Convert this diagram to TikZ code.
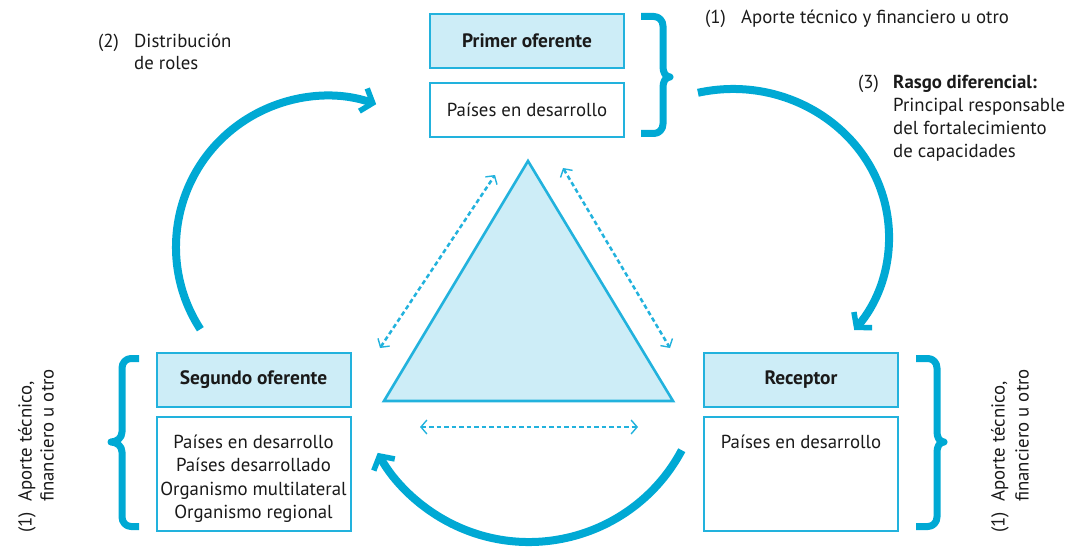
\documentclass[tikz,border=0pt]{standalone}
\usepackage{fontspec}
\setmainfont{PT Sans}
\usetikzlibrary{arrows.meta}
\definecolor{arcc}{HTML}{00A9D4}
\definecolor{boxc}{HTML}{22B2DD}
\definecolor{lightc}{HTML}{CDEDF7}
\definecolor{txtc}{HTML}{1A1A1A}
\begin{document}
\begin{tikzpicture}[x=1pt,y=-1pt,
  every node/.style={text=txtc, font=\fontsize{18.8}{23}\selectfont},
  hdr/.style={draw=boxc, fill=lightc, line width=2pt, minimum width=194pt, minimum height=54pt, inner sep=0pt, font=\fontsize{19.4}{23}\selectfont\bfseries},
  bodyb/.style={draw=boxc, fill=white, line width=2pt, minimum width=194pt, inner sep=0pt},
  txt/.style={inner sep=0pt},
  bigarrow/.style={draw=arcc, line width=8pt, -{Straight Barb[length=10pt,width=24pt,line width=5.5pt]}},
  brace/.style={draw=arcc, line width=7pt, line join=round},
  dasharrow/.style={draw=boxc, line width=2.5pt, dash pattern=on 4.5pt off 3pt,
     {Straight Barb[length=6pt,width=14pt,line width=1.4pt]}-{Straight Barb[length=6pt,width=14pt,line width=1.4pt]}},
]
\useasboundingbox (0,0) rectangle (1073,548);

% Boxes
\node[hdr] (p1h) at (527,41) {Primer oferente};
\node[bodyb, minimum height=54pt] (p1b) at (527,110) {Países en desarrollo};

\node[hdr] (s2h) at (253.5,380) {Segundo oferente};
\node[bodyb, minimum height=114pt] (s2b) at (253.5,474) {};
\node[txt, anchor=base] (s2t1) at (253.5,448.6) {Países en desarrollo};
\node[txt, anchor=base] (s2t2) at (253.5,471.8) {Países desarrollado};
\node[txt, anchor=base] (s2t3) at (253.5,495) {Organismo multilateral};
\node[txt, anchor=base] (s2t4) at (253.5,518.2) {Organismo regional};

\node[hdr] (rh) at (801,380) {Receptor};
\node[bodyb, minimum height=114pt] (rb) at (801,474) {};
\node[txt, anchor=base] (rt) at (801,448.6) {Países en desarrollo};

% Triangle
\coordinate (ta) at (528,161);
\coordinate (tl) at (384,401);
\coordinate (tr) at (673,401);
\draw[draw=boxc, fill=lightc, line width=2.6pt, line join=miter] (ta) -- (tl) -- (tr) -- cycle;

% Dashed arrows
\coordinate (d1a) at (380,348); \coordinate (d1b) at (495,175);
\coordinate (d2a) at (563,168); \coordinate (d2b) at (670,348);
\coordinate (d3a) at (420,427); \coordinate (d3b) at (638,427);
\draw[dasharrow] (d1a) -- (d1b);
\draw[dasharrow] (d2a) -- (d2b);
\draw[dasharrow] (d3a) -- (d3b);

% Big arcs
\coordinate (c1) at (327,247);
\coordinate (c2) at (733,237);
\coordinate (c3) at (529,369);
\draw[bigarrow] (c1) ++(147:151) arc[start angle=147, end angle=289, radius=151];
\draw[bigarrow] (c2) ++(257:156 and 148) arc[start angle=257, end angle=399, x radius=156, y radius=148];
\draw[bigarrow] (c3) ++(28:173) arc[start angle=28, end angle=151, radius=173];

% Braces
\draw[brace] (641,16.5) -- (654,16.5) to[out=0,in=90] (663,26) -- (663,67) to[out=-90,in=180] (670,77) to[out=180,in=90] (663,87) -- (663,124) to[out=-90,in=0] (654,133.5) -- (641,133.5);
\draw[brace] (139,358.5) -- (131,358.5) to[out=180,in=90] (122,368) -- (122,432) to[out=-90,in=0] (111,442) to[out=0,in=90] (122,452) -- (122,517) to[out=-90,in=180] (131,526.5) -- (139,526.5);
\draw[brace] (916,358.5) -- (928,358.5) to[out=0,in=90] (937,368) -- (937,432) to[out=-90,in=180] (944,442) to[out=180,in=90] (937,452) -- (937,517) to[out=-90,in=0] (928,526.5) -- (916,526.5);

% Annotations
\node[txt, anchor=base west] (n1) at (705,23.6) {(1)};
\node[txt, anchor=base west] (n1t) at (741,23.6) {Aporte técnico y financiero u otro};

\node[txt, anchor=base west] (n2) at (98,47.6) {(2)};
\node[txt, anchor=base west] (n2t) at (134,47.6) {Distribución};
\node[txt, anchor=base west] (n2u) at (134,69.6) {de roles};

\node[txt, anchor=base west] (n3) at (858,88.6) {(3)};
\node[txt, anchor=base west, font=\fontsize{18.8}{23}\selectfont\bfseries] (n3t) at (893,88.6) {Rasgo diferencial:};
\node[txt, anchor=base west] (n3u) at (893,111.6) {Principal responsable};
\node[txt, anchor=base west] (n3v) at (893,134.6) {del fortalecimiento};
\node[txt, anchor=base west] (n3w) at (893,157.6) {de capacidades};

\node[txt, rotate=90, anchor=base west] (l1) at (31.6,533) {(1)};
\node[txt, rotate=90, anchor=base west] (l2) at (31.6,502) {Aporte técnico,};
\node[txt, rotate=90, anchor=base west] (l3) at (53.6,502) {financiero u otro};

\node[txt, rotate=90, anchor=base west] (r1) at (1004.6,533) {(1)};
\node[txt, rotate=90, anchor=base west] (r2) at (1004.6,502) {Aporte técnico,};
\node[txt, rotate=90, anchor=base west] (r3) at (1028.6,502) {financiero u otro};
\end{tikzpicture}
\end{document}
